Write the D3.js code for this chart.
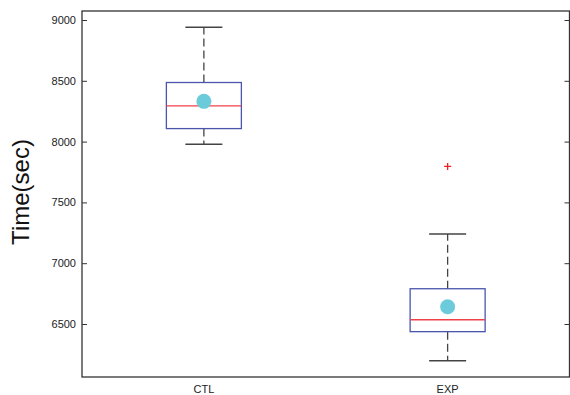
<!doctype html>
<html lang="en">
<head>
  <meta charset="UTF-8">
  <title>Time boxplot</title>
  <script src="https://d3js.org/d3.v7.min.js"></script>
  <style>
    body { margin: 0; background: #fff; }
    text { font-family: Arial, "Liberation Sans", sans-serif; }
  </style>
</head>
<body>
  <script>

    // values
    var groups = ["CTL", "EXP"];
    var whiskerLow  = [7978, 6198];
    var boxLow      = [8107, 6437];
    var medians     = [8294, 6535];
    var boxHigh     = [8486, 6790];
    var whiskerHigh = [8940, 7241];
    var means       = [8331, 6642];
    var outliers    = [[], [7796]];
    var yTicks      = [6500, 7000, 7500, 8000, 8500, 9000];

    var width = 570, height = 395
      , plotLeft = 82, plotRight = 569.5, plotTop = 11, plotBottom = 377
      ;

    var svg = d3.select("body").append("svg")
      .attr("width", width)
      .attr("height", height);

    var x = d3.scaleLinear().domain([0.5, 2.5]).range([plotLeft, plotRight]);
    var y = d3.scaleLinear().domain([6500, 9000]).range([324, 20]);

    var axisColor = "#333";

    // frame
    svg.append("rect")
      .attr("x", plotLeft).attr("y", plotTop)
      .attr("width", plotRight - plotLeft).attr("height", plotBottom - plotTop)
      .attr("fill", "none").attr("stroke", axisColor).attr("stroke-width", 1.3);

    // y ticks, left and right, pointing inward
    svg.append("g")
      .attr("transform", "translate(" + plotLeft + ",0)")
      .call(d3.axisLeft(y).tickValues(yTicks).tickSizeInner(-5).tickSizeOuter(0)
        .tickPadding(6).tickFormat(d3.format("d")))
      .call(function (ax) {
        ax.select(".domain").remove();
        ax.selectAll("line").attr("stroke", axisColor);
        ax.selectAll("text").attr("font-size", 11).attr("fill", "#222")
          .attr("font-family", "Arial, 'Liberation Sans', sans-serif");
      });

    svg.append("g")
      .attr("transform", "translate(" + plotRight + ",0)")
      .call(d3.axisRight(y).tickValues(yTicks).tickSizeInner(-5).tickSizeOuter(0).tickFormat(""))
      .call(function (ax) {
        ax.select(".domain").remove();
        ax.selectAll("line").attr("stroke", axisColor);
      });

    // x category labels
    svg.selectAll(".xlab")
      .data(groups)
      .enter().append("text")
      .attr("class", "xlab")
      .attr("x", function (d, i) { return x(i + 1); })
      .attr("y", 393)
      .attr("text-anchor", "middle")
      .attr("font-size", 11)
      .attr("fill", "#222")
      .text(function (d) { return d; });

    // y label
    svg.append("text")
      .attr("transform", "translate(29,192) rotate(-90)")
      .attr("text-anchor", "middle")
      .attr("font-size", 24)
      .attr("fill", "#111")
      .text("Time(sec)");

    var boxHalf = 37.5, capHalf = 18.5;

    var boxes = svg.selectAll(".box")
      .data(groups)
      .enter().append("g")
      .attr("class", "box");

    // whiskers (dashed)
    boxes.append("line")
      .attr("x1", function (d, i) { return x(i + 1); })
      .attr("x2", function (d, i) { return x(i + 1); })
      .attr("y1", function (d, i) { return y(boxHigh[i]); })
      .attr("y2", function (d, i) { return y(whiskerHigh[i]); })
      .attr("stroke", "#444").attr("stroke-width", 1.3)
      .attr("stroke-dasharray", "8,4");

    boxes.append("line")
      .attr("x1", function (d, i) { return x(i + 1); })
      .attr("x2", function (d, i) { return x(i + 1); })
      .attr("y1", function (d, i) { return y(boxLow[i]); })
      .attr("y2", function (d, i) { return y(whiskerLow[i]); })
      .attr("stroke", "#444").attr("stroke-width", 1.3)
      .attr("stroke-dasharray", "8,4");

    // caps
    [whiskerHigh, whiskerLow].forEach(function (arr) {
      boxes.append("line")
        .attr("x1", function (d, i) { return x(i + 1) - capHalf; })
        .attr("x2", function (d, i) { return x(i + 1) + capHalf; })
        .attr("y1", function (d, i) { return y(arr[i]); })
        .attr("y2", function (d, i) { return y(arr[i]); })
        .attr("stroke", "#444").attr("stroke-width", 1.5);
    });

    // box
    boxes.append("rect")
      .attr("x", function (d, i) { return x(i + 1) - boxHalf; })
      .attr("y", function (d, i) { return y(boxHigh[i]); })
      .attr("width", boxHalf * 2)
      .attr("height", function (d, i) { return y(boxLow[i]) - y(boxHigh[i]); })
      .attr("fill", "none")
      .attr("stroke", "#4a56ad").attr("stroke-width", 1.3);

    // median
    boxes.append("line")
      .attr("x1", function (d, i) { return x(i + 1) - boxHalf; })
      .attr("x2", function (d, i) { return x(i + 1) + boxHalf; })
      .attr("y1", function (d, i) { return y(medians[i]); })
      .attr("y2", function (d, i) { return y(medians[i]); })
      .attr("stroke", "#f0404a").attr("stroke-width", 1.3);

    // mean dot
    boxes.append("circle")
      .attr("cx", function (d, i) { return x(i + 1); })
      .attr("cy", function (d, i) { return y(means[i]); })
      .attr("r", 7.5)
      .attr("fill", "#6ccbdb");

    // outliers as red plus signs
    groups.forEach(function (name, i) {
      outliers[i].forEach(function (v) {
        var cx = x(i + 1), cy = y(v);
        svg.append("path")
          .attr("d", "M" + (cx - 3.5) + "," + cy + "H" + (cx + 3.5) + "M" + cx + "," + (cy - 3.5) + "V" + (cy + 3.5))
          .attr("stroke", "#f02020").attr("stroke-width", 1.3)
          .attr("fill", "none");
      });
    });

  </script>
</body>
</html>
